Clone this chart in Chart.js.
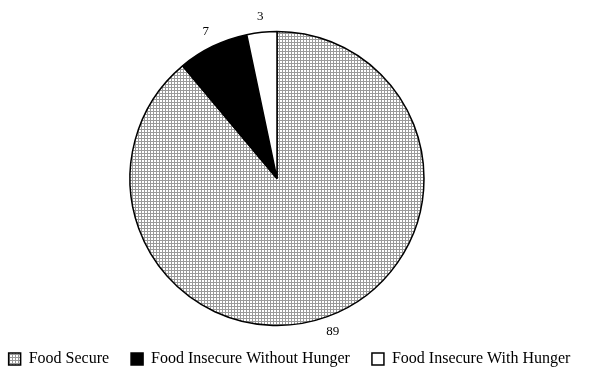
<!DOCTYPE html>
<html>
<head>
<meta charset="utf-8">
<script src="https://cdn.jsdelivr.net/npm/chart.js@4.4.0/dist/chart.umd.min.js"></script>
<style>
  html, body { margin: 0; padding: 0; background: #fff; }
</style>
</head>
<body>
<canvas id="chartCanvas" width="593" height="370"></canvas>
<script>
const categories = ['Food Secure', 'Food Insecure Without Hunger', 'Food Insecure With Hunger'];
const shares = [88.9, 7.8, 3.3];
const sliceLabels = ['89', '7', '3'];

// fine gray grid fill used for the "Food Secure" slice
function makeGridPattern(ctx) {
  const tile = document.createElement('canvas');
  tile.width = 3;
  tile.height = 3;
  const t = tile.getContext('2d');
  t.fillStyle = '#fff';
  t.fillRect(0, 0, 3, 3);
  t.fillStyle = '#999';
  t.fillRect(0, 0, 3, 1);
  t.fillRect(0, 0, 1, 3);
  return ctx.createPattern(tile, 'repeat');
}

// nudge the pie left of the legend centre, like the original
const shiftPie = {
  id: 'shiftPie',
  afterLayout(chart) {
    chart.chartArea.left -= 19.5;
    chart.chartArea.right -= 19.5;
  }
};

// value labels just outside each slice
const outsideLabels = {
  id: 'outsideLabels',
  afterDatasetsDraw(chart) {
    const ctx = chart.ctx;
    const meta = chart.getDatasetMeta(0);
    ctx.save();
    ctx.font = '13px "Liberation Serif", "Times New Roman", serif';
    ctx.fillStyle = '#000';
    ctx.textAlign = 'center';
    ctx.textBaseline = 'middle';
    meta.data.forEach((arc, i) => {
      const p = arc.getProps(['x', 'y', 'startAngle', 'endAngle', 'outerRadius'], true);
      const mid = (p.startAngle + p.endAngle) / 2;
      const r = p.outerRadius + 16;
      ctx.fillText(sliceLabels[i], p.x + Math.cos(mid) * r, p.y + Math.sin(mid) * r);
    });
    ctx.restore();
  }
};

const ctx = document.getElementById('chartCanvas').getContext('2d');
const grid = makeGridPattern(ctx);

new Chart(ctx, {
  type: 'pie',
  data: {
    labels: categories,
    datasets: [{
      data: shares,
      backgroundColor: [grid, '#000', '#fff'],
      borderColor: '#000',
      borderWidth: 1.5
    }]
  },
  options: {
    responsive: false,
    animation: false,
    radius: 147,
    layout: { padding: { top: 28, right: 0, bottom: -7, left: -14 } },
    plugins: {
      tooltip: { enabled: false },
      legend: {
        position: 'bottom',
        labels: {
          boxWidth: 12,
          boxHeight: 12,
          padding: 22,
          color: '#000',
          font: { family: '"Liberation Serif", "Times New Roman", serif', size: 16 }
        }
      }
    }
  },
  plugins: [shiftPie, outsideLabels]
});
</script>
</body>
</html>
